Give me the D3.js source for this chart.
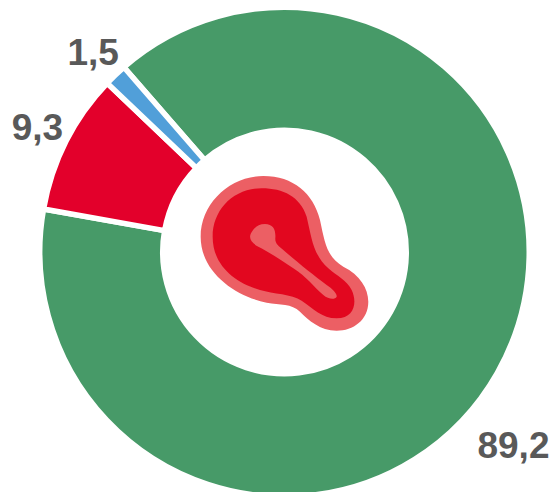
<!DOCTYPE html>
<html>
<head>
<meta charset="utf-8">
<script src="https://cdnjs.cloudflare.com/ajax/libs/d3/7.8.5/d3.min.js"></script>
<style>
    html, body { margin: 0; padding: 0; background: #fff; }
    svg { display: block; }
</style>
</head>
<body>
<svg id="donut"></svg>
<script>
var categories = ["green", "red", "blue"];
var values = [89.2, 9.3, 1.5];
var labels = ["89,2", "9,3", "1,5"];
var colors = ["#479a68", "#e3002b", "#519fd9"];

var width = 554, height = 492;
var cx = 284.5, cy = 252;
var outerRadius = 244.75, innerRadius = 121.75;

var svg = d3.select("#donut")
    .attr("width", width)
    .attr("height", height)
    .attr("viewBox", `0 0 ${width} ${height}`);

var g = svg.append("g")
    .attr("transform", "translate(" + cx + "," + cy + ")");

// green starts just right of the blue wedge, going clockwise
var startAngle = -41 * Math.PI / 180;

var pie = d3.pie()
    .sort(null)
    .value(d => d.value)
    .startAngle(startAngle)
    .endAngle(startAngle + 2 * Math.PI);

var arc = d3.arc()
    .innerRadius(innerRadius)
    .outerRadius(outerRadius);

var slices = pie(categories.map((c, i) => ({ name: c, value: values[i], label: labels[i], color: colors[i] })));

g.selectAll("path.slice")
    .data(slices)
    .enter().append("path")
    .attr("class", "slice")
    .attr("d", arc)
    .attr("fill", d => d.data.color)
    .attr("stroke", "#fff")
    .attr("stroke-width", 5.5);

// Labels sit just outside the ring
var labelArc = d3.arc().innerRadius(277).outerRadius(277);

g.selectAll("text.label")
    .data(slices)
    .enter().append("text")
    .attr("class", "label")
    .attr("transform", function (d) {
        var p = labelArc.centroid(d);
        // the big slice's label is pushed down to the bottom right corner
        if (d.data.name === "green") { p = [p[0] - 12, p[1] + 56]; }
        return "translate(" + p[0] + "," + p[1] + ")";
    })
    .attr("text-anchor", "middle")
    .attr("dy", "0.36em")
    .style("font-family", "'Liberation Sans', Arial, sans-serif")
    .style("font-weight", "bold")
    .style("font-size", "37px")
    .style("fill", "#595959")
    .text(d => d.data.label);

// Steak icon in the hole, traced at 3x
var icon = svg.append("g")
    .attr("transform", "translate(180,160) scale(0.3333)");

icon.append("path")
    .attr("fill", "#ec5f64")
    .attr("d", "M250,48 C340,48 400,100 420,180 C435,250 440,290 490,320 C540,345 565,385 565,425 C565,480 520,512 470,512 C420,512 385,480 360,455 C335,430 300,435 260,428 C170,410 62,340 62,230 C62,130 150,48 250,48Z");

icon.append("path")
    .attr("fill", "#e2071f")
    .attr("d", "M245,85 C310,85 360,110 380,170 C395,235 400,285 445,325 C470,348 500,360 515,390 C532,425 525,475 470,475 C425,475 400,445 365,422 C335,402 280,402 240,390 C170,370 98,320 98,230 C98,150 160,85 245,85Z");

icon.append("path")
    .attr("fill", "#ec5f64")
    .attr("d", "M255,192 C280,192 288,210 286,235 C285,250 295,258 310,270 C350,305 400,345 440,375 C455,385 472,400 470,410 C465,420 445,418 430,405 C400,380 380,350 340,325 C300,298 260,272 235,260 C215,250 205,235 213,220 C222,203 235,192 255,192Z");
</script>
</body>
</html>
